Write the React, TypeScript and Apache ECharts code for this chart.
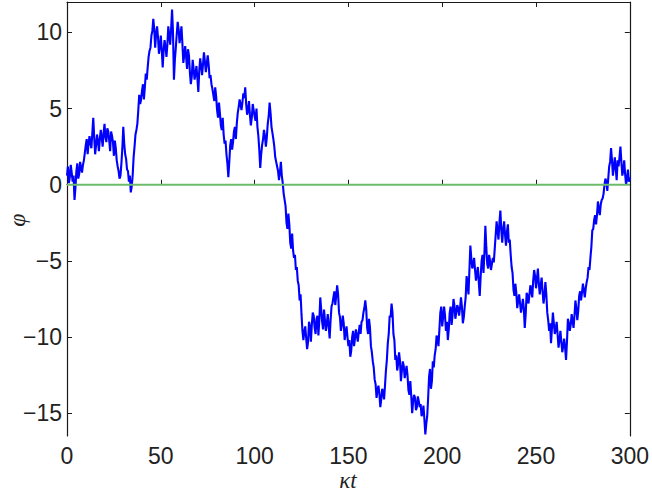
import React, { useEffect, useRef } from "react";
import * as echarts from "echarts";

// phi read at kappa*t = 0, 1, 2, ..., 300
const phiValues: number[] = [
  0.6, 0.1, 1.3, 0.2, -1.0, 0.9, 0.4, 1.5, 0.8, 1.6,
  2.6, 2.0, 3.2, 2.4, 4.4, 2.0, 3.3, 2.2, 3.6, 2.5,
  4.0, 2.8, 3.5, 2.2, 3.2, 1.9, 2.4, 1.2, 0.4, 1.4,
  3.8, 2.0, 1.0, 0.2, -0.5, 0.6, 2.5, 3.6, 4.9, 5.3,
  6.2, 5.6, 7.3, 7.7, 8.8, 9.8, 10.9, 9.0, 10.4, 8.6,
  9.8, 7.7, 9.5, 8.4, 10.4, 9.2, 11.5, 6.9, 9.0, 10.7,
  9.3, 10.4, 8.0, 9.1, 7.6, 8.5, 6.6, 8.2, 6.9, 7.8,
  6.1, 8.3, 7.2, 8.7, 7.4, 8.5, 7.0, 6.6, 5.9, 6.4,
  4.9, 5.4, 3.9, 4.4, 2.7, 2.0, 0.5, 2.6, 2.3, 3.5,
  3.0, 4.7, 5.6, 4.9, 6.0, 6.4, 4.6, 5.5, 3.9, 5.3,
  4.5, 5.0, 3.2, 1.1, 2.6, 3.6, 2.5, 4.0, 5.4, 3.8,
  3.0, 1.8, 1.2, 0.3, 1.5, 0.1, -1.0, -2.5, -1.9, -3.8,
  -3.2, -4.8, -5.6, -6.3, -7.6, -8.5, -10.2, -9.3, -10.8, -9.0,
  -10.3, -8.4, -9.4, -8.8, -9.9, -7.4, -9.0, -8.2, -9.6, -8.5,
  -10.1, -8.0, -7.4, -7.9, -6.6, -8.4, -9.6, -8.6, -10.2, -9.3,
  -10.6, -11.3, -10.0, -10.6, -9.5, -10.3, -9.2, -9.0, -8.4, -7.6,
  -9.4, -8.8, -10.6, -11.6, -12.8, -14.0, -13.2, -14.6, -13.4, -14.1,
  -12.2, -10.4, -8.6, -7.8, -9.8, -11.5, -12.2, -11.0, -12.9, -11.6,
  -12.7, -11.9, -13.5, -12.9, -15.0, -13.8, -14.8, -13.9, -14.6, -15.2,
  -14.5, -16.4, -15.2, -12.6, -13.4, -11.6, -11.2, -9.9, -10.6, -8.4,
  -9.3, -8.0, -9.6, -10.2, -8.4, -9.2, -7.5, -8.8, -7.9, -8.6,
  -7.4, -9.1, -8.0, -6.0, -7.2, -4.0, -5.5, -4.8, -6.3, -5.4,
  -7.3, -5.0, -5.8, -2.7, -5.2, -4.6, -5.6, -4.8, -4.2, -2.4,
  -3.6, -1.7, -3.8, -2.4, -4.0, -2.6, -3.6, -5.4, -6.9, -6.5,
  -8.1, -7.2, -8.4, -7.5, -9.4, -7.1, -7.8, -6.6, -7.4, -5.6,
  -6.8, -5.5, -7.2, -6.1, -7.8, -6.4, -8.4, -9.6, -10.4, -8.4,
  -9.8, -9.0, -10.7, -9.6, -11.0, -10.1, -11.5, -8.8, -9.6, -8.5,
  -9.4, -7.6, -8.9, -7.3, -7.6, -6.5, -7.4, -6.4, -5.4, -4.8,
  -3.0, -2.3, -2.6, -1.1, -2.0, -1.0, -0.6, 0.4, -0.4, 1.2,
  2.4, 0.6, 1.8, 0.3, 1.2, 2.5, 0.6, 1.6, 0.0, 1.0,
  0.5,
];
// phi read at kappa*t = 0.5, 1.5, ..., 299.5
const phiMidValues: number[] = [
  1.2, 0.5, 0.8, 0.6, -0.2, 1.4, 0.7, 1.1, 1.3, 2.1,
  3.0, 2.7, 2.7, 3.4, 3.1, 2.6, 2.9, 3.0, 3.1, 3.4,
  3.1, 3.7, 2.9, 3.5, 2.8, 2.9, 1.6, 0.9, 0.6, 2.4,
  2.7, 1.7, 0.9, 0.6, -0.1, 1.8, 3.3, 4.0, 5.9, 5.6,
  6.6, 6.4, 6.9, 8.4, 9.0, 10.1, 10.2, 9.9, 9.7, 9.0,
  8.9, 8.8, 9.1, 9.2, 9.8, 10.2, 10.0, 8.2, 9.9, 10.2,
  9.8, 9.3, 8.5, 8.4, 8.9, 7.4, 7.1, 7.6, 7.3, 7.0,
  7.5, 7.8, 7.9, 8.1, 7.9, 7.9, 7.2, 6.3, 5.5, 5.8,
  4.4, 4.7, 3.6, 3.3, 2.9, 1.4, 1.5, 3.0, 2.8, 3.8,
  4.0, 5.1, 5.3, 5.4, 5.7, 5.3, 4.9, 4.6, 4.4, 4.9,
  4.2, 3.8, 2.3, 2.0, 3.0, 3.2, 3.1, 4.5, 4.7, 3.4,
  2.5, 1.5, 0.9, 0.8, 0.6, -0.6, -1.4, -2.9, -2.6, -4.2,
  -4.3, -4.6, -5.4, -6.6, -7.2, -9.6, -9.6, -10.1, -10.3, -9.3,
  -9.2, -8.6, -9.8, -8.6, -8.9, -8.2, -9.5, -8.9, -9.1, -9.3,
  -8.9, -7.8, -7.0, -7.3, -7.2, -8.7, -9.2, -9.1, -9.7, -10.0,
  -10.2, -10.9, -9.6, -10.1, -9.9, -9.7, -9.8, -8.9, -8.1, -8.2,
  -9.8, -9.4, -11.0, -12.0, -13.1, -13.5, -13.7, -14.1, -13.6, -13.2,
  -11.5, -9.8, -8.7, -8.4, -10.2, -11.2, -11.8, -11.6, -12.2, -11.9,
  -12.3, -12.5, -13.8, -13.9, -14.2, -14.0, -14.6, -14.2, -14.4, -15.0,
  -15.4, -15.7, -14.0, -12.1, -12.9, -12.0, -10.8, -10.1, -9.5, -8.0,
  -8.7, -8.6, -9.0, -9.5, -8.0, -8.6, -7.9, -8.4, -8.1, -8.1,
  -8.0, -8.7, -7.4, -6.5, -5.6, -4.8, -5.3, -5.6, -5.8, -6.4,
  -6.0, -4.6, -4.5, -4.1, -5.5, -5.0, -5.2, -5.1, -3.3, -3.0,
  -2.5, -3.0, -2.9, -3.3, -3.1, -3.8, -4.6, -5.8, -7.3, -7.1,
  -7.6, -7.8, -8.0, -8.1, -8.5, -7.3, -7.2, -7.0, -6.3, -6.0,
  -6.2, -6.5, -6.6, -7.0, -7.3, -7.2, -8.9, -9.1, -9.4, -9.1,
  -9.5, -9.8, -10.2, -10.3, -10.6, -10.7, -10.3, -9.1, -9.2, -8.9,
  -8.6, -8.1, -8.3, -7.0, -7.1, -6.9, -6.8, -6.1, -5.6, -4.1,
  -2.9, -2.0, -2.0, -1.6, -1.3, -0.9, 0.0, 0.2, 0.4, 1.5,
  1.6, 1.2, 1.0, 1.6, 1.8, 1.5, 0.9, 0.7, 0.4, 0.2,
];
const tStep = 1;
const zeroLineX = [0, 300];
const zeroLineY = [0, 0];
const yTicks = [-15, -10, -5, 0, 5, 10];

export default function App() {
  const ref = useRef<HTMLDivElement>(null);
  useEffect(() => {
    if (!ref.current) return;
    const chart = echarts.init(ref.current, undefined, { renderer: "svg" });
    const lineData: number[][] = [];
    phiValues.forEach((v, i) => {
      lineData.push([i * tStep, v]);
      if (i < phiMidValues.length) lineData.push([(i + 0.5) * tStep, phiMidValues[i]]);
    });
    const zeroData = zeroLineX.map((x, i) => [x, zeroLineY[i]]);
    const axisColor = "#1a1a1a";
    const labelFont = "'Liberation Sans', Arial, Helvetica, sans-serif";
    const fmt = (v: number) => (v < 0 ? "\u2212" + Math.abs(v) : String(v));
    chart.setOption({
      animation: false,
      backgroundColor: "#ffffff",
      grid: { left: 67, right: 22, top: 2, bottom: 58, containLabel: false },
      xAxis: [
        {
          type: "value",
          min: 0,
          max: 300,
          interval: 50,
          axisLine: { show: true, lineStyle: { color: axisColor, width: 1.2 } },
          axisTick: { show: true, inside: true, length: 5, lineStyle: { color: axisColor } },
          axisLabel: {
            show: true,
            margin: 8,
            fontSize: 23,
            color: "#222",
            fontFamily: labelFont,
            formatter: fmt,
          },
          splitLine: { show: false },
        },
        {
          type: "value",
          position: "top",
          min: 0,
          max: 300,
          interval: 50,
          axisLine: { show: true, onZero: false, lineStyle: { color: axisColor, width: 1.2 } },
          axisTick: { show: true, inside: true, length: 5, lineStyle: { color: axisColor } },
          axisLabel: { show: false },
          splitLine: { show: false },
        },
      ],
      yAxis: [
        {
          type: "value",
          min: -16.5,
          max: 12,
          axisLine: { show: true, onZero: false, lineStyle: { color: axisColor, width: 1.2 } },
          axisTick: {
            show: true,
            inside: true,
            length: 5,
            customValues: yTicks,
            lineStyle: { color: axisColor },
          },
          axisLabel: {
            show: true,
            margin: 5,
            fontSize: 23,
            color: "#222",
            fontFamily: labelFont,
            customValues: yTicks,
            formatter: fmt,
          },
          splitLine: { show: false },
        },
        {
          type: "value",
          position: "right",
          min: -16.5,
          max: 12,
          axisLine: { show: true, onZero: false, lineStyle: { color: axisColor, width: 1.2 } },
          axisTick: {
            show: true,
            inside: true,
            length: 5,
            customValues: yTicks,
            lineStyle: { color: axisColor },
          },
          axisLabel: { show: false },
          splitLine: { show: false },
        },
      ],
      graphic: [
        {
          type: "text",
          x: 17,
          y: 220,
          rotation: Math.PI / 2,
          style: {
            text: "\u03c6",
            font: "italic 24px 'Liberation Serif', 'DejaVu Serif', serif",
            fill: "#222",
            textAlign: "center",
            textVerticalAlign: "middle",
          },
        },
        {
          type: "text",
          x: 348,
          y: 480,
          style: {
            text: "\u03bat",
            font: "italic 23px 'Liberation Serif', 'DejaVu Serif', serif",
            fill: "#222",
            textAlign: "center",
            textVerticalAlign: "middle",
          },
        },
      ],
      series: [
        {
          type: "line",
          data: lineData,
          xAxisIndex: 0,
          yAxisIndex: 0,
          showSymbol: false,
          symbol: "none",
          lineStyle: { color: "#0000ff", width: 2.1 },
          z: 2,
        },
        {
          type: "line",
          data: zeroData,
          xAxisIndex: 0,
          yAxisIndex: 0,
          showSymbol: false,
          symbol: "none",
          lineStyle: { color: "#6cbb6c", width: 1.8 },
          z: 3,
        },
      ],
    });
    return () => chart.dispose();
  }, []);
  return (
    <div
      ref={ref}
      style={{ position: "fixed", left: 0, top: 0, width: 652, height: 494, background: "#fff" }}
    />
  );
}
